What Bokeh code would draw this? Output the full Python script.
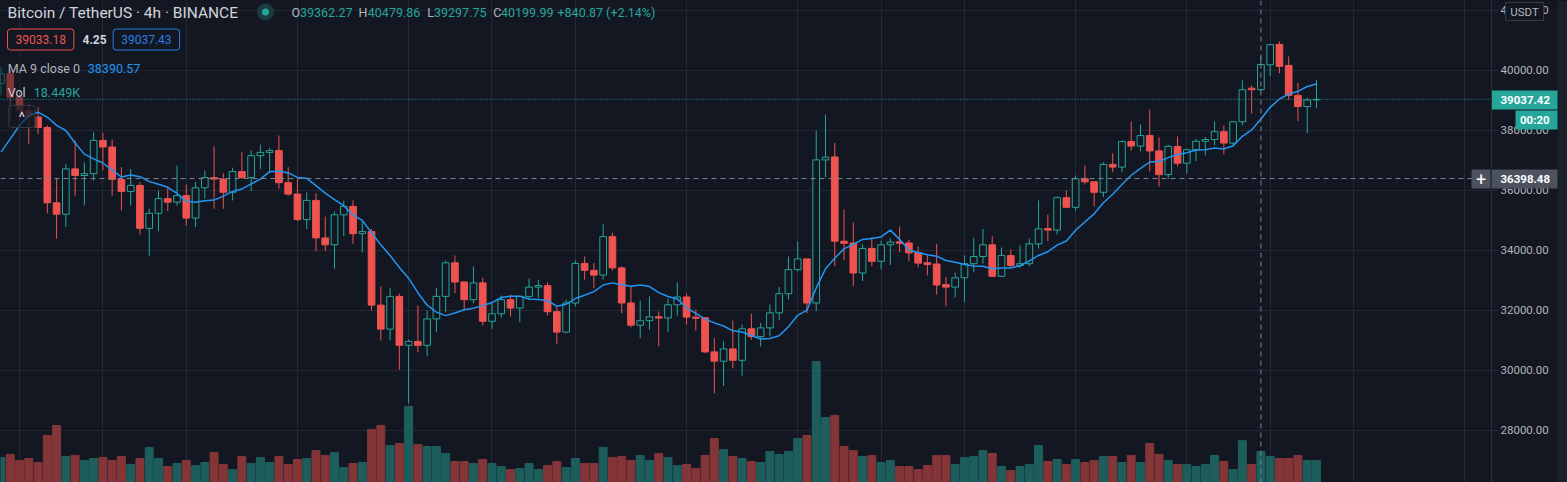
from bokeh.plotting import figure
from bokeh.models import (Range1d, FixedTicker, Grid, Span, Label, ColumnDataSource,
                          GlobalInlineStyleSheet)
from bokeh.core.properties import value
from bokeh.embed import file_html
from bokeh.resources import INLINE

# ---------------- data (BTC/USDT 4h) ----------------
open_ = [39567, 39890, 39110, 38670, 38450, 38100, 35590, 35210, 36720, 36500,
         36560, 37670, 37450, 36370, 35970, 36170, 34740, 35240, 35730, 35610,
         35830, 35080, 36090, 36430, 36380, 35940, 36630, 36430, 37160, 37270,
         37330, 36260, 35880, 35030, 35670, 34420, 34190, 35190, 35470, 34560,
         34630, 32180, 31380, 32470, 30840, 30970, 30840, 31720, 32470, 33590,
         32950, 32360, 32920, 31640, 31890, 32360, 32080, 32470, 32780, 32830,
         31960, 31280, 32250, 33570, 33340, 33180, 34460, 33420, 32250, 31510,
         31660, 31790, 31750, 32190, 32450, 31780, 31760, 30620, 30310, 30720,
         30340, 31390, 31130, 31420, 31920, 32560, 33360, 33720, 32250, 37020,
         37120, 34310, 34250, 33250, 34070, 33640, 34190, 34290, 34250, 33930,
         33590, 33550, 32860, 32780, 33090, 33560, 33800, 34190, 33140, 33830,
         33500, 33560, 34220, 34730, 34680, 35760, 35440, 36390, 36290, 35940,
         36870, 36780, 37630, 37480, 37830, 37320, 36530, 37470, 36910, 37360,
         37640, 37700, 37960, 37580, 38290, 39410, 39362.27, 40190, 40870, 40170,
         39170, 38800, 39020]
high = [40130, 40000, 39270, 38890, 38780, 38170, 36420, 36890, 37670, 36940,
        37940, 37920, 37700, 36780, 36720, 36270, 35390, 36000, 36130, 36830,
        36200, 36280, 36670, 37470, 36570, 36760, 37280, 37330, 37530, 37420,
        37830, 36780, 36390, 35940, 35910, 35130, 35300, 35670, 35670, 35000,
        34720, 32800, 32760, 32560, 31030, 32170, 32000, 32760, 33670, 33830,
        32970, 33470, 33090, 32280, 32500, 32530, 32500, 33060, 33020, 32940,
        32130, 32360, 33670, 33800, 33580, 34870, 34590, 33470, 32830, 32330,
        32470, 31970, 32390, 32940, 32560, 32030, 31780, 31080, 30970, 31670,
        31530, 31890, 31590, 32200, 32780, 33800, 34300, 33720, 38000, 38530,
        37580, 35370, 34940, 34200, 34440, 34330, 34410, 34800, 34360, 34140,
        33870, 34220, 33110, 33260, 33830, 34420, 34720, 34470, 34100, 34030,
        34170, 34400, 35670, 35200, 35800, 36000, 36500, 36830, 36300, 36940,
        37240, 37670, 38300, 38200, 38700, 37770, 37520, 37800, 37390, 37720,
        37780, 38300, 38170, 38310, 39670, 39500, 40479.86, 40880, 40970, 40470,
        39590, 39090, 39690]
low = [39170, 38300, 38280, 37560, 37890, 35240, 34390, 34780, 35830, 35500,
       36330, 36670, 35830, 35330, 35500, 34530, 33830, 34640, 35310, 35500,
       34830, 34780, 35740, 35390, 35390, 35670, 36390, 35980, 36720, 36610,
       36060, 35830, 34980, 34720, 33980, 33980, 33390, 34480, 34220, 33940,
       32000, 31000, 31000, 30030, 28900, 30610, 30480, 31280, 31940, 32580,
       32020, 32240, 31500, 31390, 31760, 31800, 31610, 32360, 32420, 31830,
       30870, 31240, 32140, 33030, 32740, 33030, 33330, 31910, 31440, 31080,
       31360, 30810, 31280, 31830, 31530, 31330, 30580, 29240, 29480, 30080,
       29830, 31020, 30800, 31130, 31670, 32370, 33310, 31910, 31980, 36440,
       33480, 33670, 32810, 32980, 33480, 33370, 33520, 33940, 33640, 33440,
       33170, 32530, 32140, 32440, 32280, 33280, 33560, 33120, 33110, 33440,
       33420, 33480, 34070, 34310, 34530, 35420, 35330, 36200, 35470, 35780,
       36610, 36610, 37330, 37300, 36640, 36130, 36390, 36800, 36560, 36980,
       37170, 37500, 37200, 37470, 38170, 38560, 39297.75, 39810, 39910, 39020,
       38310, 37910, 38740]
close = [39890, 39110, 38670, 38450, 38100, 35590, 35210, 36720, 36500, 36560,
         37670, 37450, 36370, 35970, 36170, 34740, 35240, 35730, 35610, 35830,
         35080, 36090, 36430, 36380, 35940, 36630, 36430, 37160, 37270, 37330,
         36260, 35880, 35030, 35670, 34420, 34190, 35190, 35470, 34560, 34630,
         32180, 31380, 32470, 30840, 30970, 30840, 31720, 32470, 33590, 32950,
         32360, 32920, 31640, 31890, 32360, 32080, 32470, 32780, 32830, 31960,
         31280, 32250, 33570, 33340, 33180, 34460, 33420, 32250, 31510, 31660,
         31790, 31750, 32190, 32450, 31780, 31740, 30620, 30310, 30720, 30340,
         31390, 31130, 31420, 31920, 32560, 33360, 33720, 32250, 37020, 37110,
         34310, 34240, 33250, 34070, 33640, 34190, 34280, 34240, 33920, 33580,
         33530, 32850, 32780, 33090, 33560, 33800, 34190, 33140, 33830, 33500,
         33560, 34220, 34720, 34680, 35760, 35440, 36390, 36290, 35940, 36870,
         36780, 37630, 37480, 37830, 37320, 36530, 37470, 36910, 37360, 37640,
         37700, 37960, 37580, 38290, 39360, 39359.12, 40199.99, 40860, 40140, 39170,
         38800, 39020, 39037.42]
# volume in thousands of BTC
volume_k = [14.9, 16.7, 13.1, 14.3, 11.9, 28.0, 33.9, 15.5, 16.1, 13.1,
            14.3, 14.9, 13.1, 15.5, 10.7, 14.3, 20.8, 14.3, 9.5, 11.3,
            13.1, 10.1, 11.9, 17.8, 10.7, 7.7, 15.5, 11.3, 14.9, 11.9,
            15.5, 10.7, 13.7, 14.3, 19.0, 16.1, 17.8, 8.9, 11.3, 11.9,
            31.5, 33.9, 22.0, 23.2, 45.2, 22.6, 21.4, 21.4, 17.3, 12.5,
            12.5, 11.3, 13.7, 11.3, 9.5, 7.7, 8.3, 11.3, 7.7, 10.1,
            12.5, 8.9, 14.3, 11.3, 11.3, 20.8, 14.9, 15.5, 13.1, 16.1,
            13.1, 17.3, 14.9, 10.1, 10.7, 8.3, 16.1, 26.2, 19.6, 15.5,
            14.3, 12.5, 11.9, 18.5, 16.7, 18.5, 26.2, 28.0, 72.0, 38.7,
            39.9, 21.4, 19.0, 15.5, 16.1, 11.9, 13.1, 9.5, 9.5, 7.7,
            10.1, 16.1, 16.1, 10.7, 14.9, 15.5, 19.0, 17.3, 9.5, 7.1,
            9.5, 10.7, 22.0, 12.5, 13.7, 10.7, 13.7, 11.9, 13.1, 15.5,
            15.5, 11.9, 16.1, 11.9, 23.2, 16.7, 13.1, 10.7, 10.7, 9.5,
            10.7, 16.1, 12.5, 7.7, 24.9, 10.7, 18.449, 15.5, 14.3, 14.3,
            16.1, 13.1, 13.1]
# MA(9) values of the first 8 visible bars (window starts before the visible range)
ma_head = [37280, 37720, 38170, 38500, 38610, 38440, 38170, 38000]
price_ticks = [28000, 30000, 32000, 34000, 36000, 38000, 40000, 42000]
day_ticks = [2, 11, 20, 32, 44, 53, 62, 74, 86, 95, 104, 116, 128, 137, 146, 158]
last_price = 39037.42
cross_bar = 136
cross_price = 36398.48

# ---------------- derived ----------------
n = len(close)
idx = list(range(n))
up = [c >= o for o, c in zip(open_, close)]
ma = ma_head + [sum(close[i - 8:i + 1]) / 9 for i in range(8, n)]

BG = "#131722"
GREEN = "#26a69a"
RED = "#ef5350"
GRID = "#242834"
AXIS = "#2a2e39"
TXT = "#b2b5be"
FONT = "Roboto"

W, H = 1567, 482
PXB = 9.264            # px per bar
X0 = -0.054
X1 = X0 + W / PXB
PXU = 0.03             # px per USDT
YTOP = 42333.33
YBOT = YTOP - H / PXU


def xd(px):
    return X0 + px / PXB


def yd(py):
    return YTOP - py / PXU


SCALE_X = 1491   # left edge of the price scale (px)

p = figure(width=W, height=H, x_range=Range1d(X0, X1), y_range=Range1d(YBOT, YTOP),
           output_backend="svg", toolbar_location=None,
           x_axis_location=None, y_axis_location=None,
           background_fill_color=BG, border_fill_color=BG, outline_line_color=None,
           min_border_left=0, min_border_top=0, min_border_bottom=0, min_border_right=0)
p.stylesheets = [GlobalInlineStyleSheet(css="html, body { margin: 0 !important; padding: 0; background: #131722; overflow: hidden; }")]
p.extra_y_ranges = {"vol": Range1d(0, H * 0.595)}
for g in p.grid:
    g.visible = False

# grid: day separators (vertical) and price levels (horizontal, ending in the scale ticks)
p.add_layout(Grid(dimension=0, ticker=FixedTicker(ticks=day_ticks), grid_line_color=GRID))
p.segment(x0=[X0] * len(price_ticks), y0=price_ticks,
          x1=[xd(SCALE_X)] * len(price_ticks), y1=price_ticks, line_color=GRID, line_width=1)

# volume
vsrc = ColumnDataSource(dict(x=idx, top=volume_k,
                             color=["#1d5e5c" if u else "#843538" for u in up]))
p.vbar(x="x", top="top", bottom=0, width=0.86, color="color", source=vsrc, y_range_name="vol")

# wicks
wsrc = ColumnDataSource(dict(x=idx, hi=high, lo=low,
                             btop=[max(o, c) for o, c in zip(open_, close)],
                             bbot=[min(o, c) for o, c in zip(open_, close)],
                             color=[GREEN if u else RED for u in up]))
p.segment(x0="x", y0="btop", x1="x", y1="hi", color="color", line_width=1, source=wsrc)
p.segment(x0="x", y0="bbot", x1="x", y1="lo", color="color", line_width=1, source=wsrc)

# bodies
bsrc = ColumnDataSource(dict(x=idx,
                             top=[max(o, c) for o, c in zip(open_, close)],
                             bottom=[min(o, c) for o, c in zip(open_, close)],
                             line=[GREEN if u else RED for u in up],
                             fill=[BG if u else RED for u in up]))
p.vbar(x="x", top="top", bottom="bottom", width=0.72, fill_color="fill",
       line_color="line", line_width=1, source=bsrc)

# legend backdrop dims bars under it
p.quad(left=xd(0), right=xd(37), top=yd(58), bottom=yd(128), fill_color=BG, fill_alpha=0.5, line_alpha=0)

# MA line
p.line(idx, ma, line_color="#2196f3", line_width=1.5)

# last price line and crosshair
p.segment(x0=[X0], y0=[last_price], x1=[xd(SCALE_X)], y1=[last_price],
          line_color=GREEN, line_dash="1 2", line_width=1)
p.segment(x0=[X0], y0=[cross_price], x1=[xd(SCALE_X)], y1=[cross_price],
          line_color="#758696", line_dash="5 4", line_width=1)
p.add_layout(Span(location=cross_bar, dimension="height", line_color="#758696",
                  line_dash="5 4", line_width=1))

# ---------------- price scale ----------------
p.quad(left=xd(SCALE_X), right=xd(W), top=YTOP, bottom=YBOT, fill_color=BG, line_alpha=0)
p.quad(left=xd(1557), right=xd(W), top=YTOP, bottom=YBOT, fill_color="#1b1f2a", line_alpha=0)
p.segment(x0=[xd(SCALE_X)] * len(price_ticks), y0=price_ticks,
          x1=[xd(SCALE_X + 6)] * len(price_ticks), y1=price_ticks, line_color=AXIS, line_width=1)
p.add_layout(Span(location=xd(SCALE_X), dimension="height", line_color=AXIS, line_width=1))
p.text(x=[xd(1500)] * len(price_ticks), y=price_ticks, text=[f"{t:.2f}" for t in price_ticks],
       text_font=value(FONT), text_font_size="11.5px", text_color=TXT, text_baseline="middle")

# tags on the scale
tags = dict(left=[xd(1491), xd(1515), xd(1491), xd(1471)],
            right=[xd(1557), xd(1557), xd(1557), xd(1490)],
            top=[yd(90), yd(110), yd(169), yd(169)],
            bottom=[yd(109), yd(129), yd(188), yd(188)],
            color=[GREEN, GREEN, "#4c525e", "#4c525e"])
p.quad(left="left", right="right", top="top", bottom="bottom", fill_color="color",
       line_alpha=0, source=ColumnDataSource(tags))
p.text(x=[xd(1500), xd(1519.5), xd(1500)], y=[yd(99.5), yd(119.5), yd(178.5)],
       text=[f"{last_price:.2f}", "00:20", f"{cross_price:.2f}"],
       text_font=value(FONT), text_font_size="11.5px", text_font_style="bold",
       text_color="#ffffff", text_baseline="middle")
p.text(x=[xd(1480.5)], y=[yd(178.5)], text=["+"], text_font=value(FONT), text_font_size="18px",
       text_color="#ffffff", text_baseline="middle", text_align="center")
p.quad(left=[xd(1505)], right=[xd(1543)], top=[yd(2)], bottom=[yd(20)], fill_color=BG,
       line_color="#363a45", line_width=1)
p.text(x=[xd(1524)], y=[yd(11)], text=["USDT"], text_font=value(FONT), text_font_size="11.5px",
       text_color=TXT, text_baseline="middle", text_align="center")


def lab(px, py, text, size, color, style="normal", align="left", **kw):
    p.add_layout(Label(x=xd(px), y=yd(py), text=text, text_font=FONT,
                       text_font_size=f"{size}px", text_color=color, text_font_style=style,
                       text_align=align, text_baseline="middle", **kw))


# header
lab(7, 12.3, "Bitcoin / TetherUS · 4h · BINANCE", 15.5, "#d1d4dc")
p.scatter([xd(265)], [yd(11.5)], size=17, fill_color="#1b3b3e", line_alpha=0)
p.scatter([xd(265)], [yd(11.5)], size=7, fill_color=GREEN, line_alpha=0)
for txt, px, col in [("O", 291, TXT), ("39362.27", 299.5, GREEN),
                     ("H", 358, TXT), ("40479.86", 367.3, GREEN),
                     ("L", 426.7, TXT), ("39297.75", 433.5, GREEN),
                     ("C", 492.7, TXT), ("40199.99", 500.5, GREEN),
                     ("+840.87 (+2.14%)", 557, GREEN)]:
    lab(px, 12.3, txt, 12.5, col)

lab(7, 39, "39033.18", 12, RED, background_fill_color=BG, border_line_color=RED,
    padding=dict(left=8, right=8, top=6, bottom=6), border_radius=3)
lab(82, 39, "4.25", 12, "#d1d4dc", style="bold")
lab(112.7, 39, "39037.43", 12, "#2b7fe0", background_fill_color=BG, border_line_color="#2b7fe0",
    padding=dict(left=8, right=8, top=6, bottom=6), border_radius=3)
lab(7.3, 67.5, "MA 9 close 0", 12.5, TXT)
lab(87.3, 67.5, "38390.57", 12.5, "#2196f3")
lab(7.3, 92, "Vol", 12.5, "#c8cbd3")
lab(33.3, 92, "18.449K", 12.5, GREEN)
lab(21.3, 116, "^", 15, "#d1d4dc", align="center", background_fill_color=BG, background_fill_alpha=0.6,
    border_line_color="#363a45", padding=dict(left=10, right=10, top=2, bottom=2), border_radius=3)

open("out.html", "w").write(file_html(p, INLINE))
